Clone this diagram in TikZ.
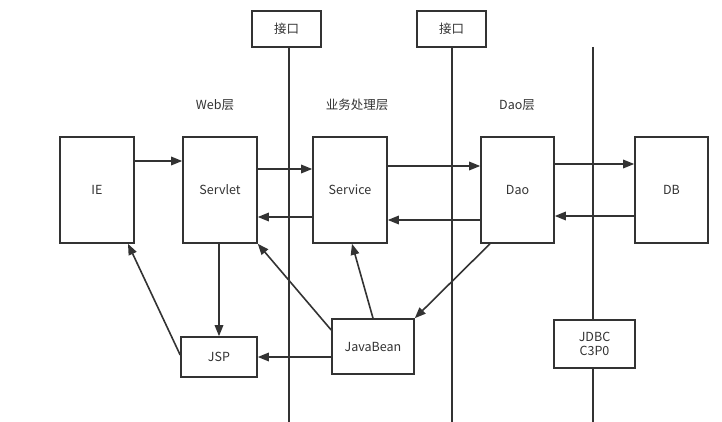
\documentclass[tikz,border=0pt]{standalone}
\usepackage{fontspec}
\setmainfont{Noto Sans CJK SC}
\usetikzlibrary{arrows.meta}
\definecolor{ink}{HTML}{333333}

\begin{document}
\begin{tikzpicture}[x=1pt,y=-1pt,line width=1.6pt,draw=ink,
  box/.style={draw,fill=white,inner sep=0pt,text=ink,font=\fontsize{12.5}{15}\selectfont,align=center},
  arr/.style={-{Triangle[length=11pt,width=8.5pt]}},
  lbl/.style={text=ink,font=\fontsize{12.5}{15}\selectfont}]
  \useasboundingbox (0,0) rectangle (722,422);
  % layer lines
  \node [box,minimum width=69pt,minimum height=36pt] (if1) at (286.5,29) {接口};
  \node [box,minimum width=69pt,minimum height=36pt] (if2) at (451.5,29) {接口};
  \coordinate (top3) at (593,47);
  \coordinate (bot1) at (289,422);
  \coordinate (bot2) at (452,422);
  \coordinate (bot3) at (593,422);
  \node [box,minimum width=81pt,minimum height=48pt] (jdbc) at (594.5,344) {JDBC\\[-1pt]C3P0};
  \draw (if1.south -| bot1) -- (bot1);
  \draw (if2.south -| bot2) -- (bot2);
  \draw (top3) -- (jdbc.north -| top3);
  \draw (jdbc.south -| bot3) -- (bot3);
  \node [lbl] (web) at (215,105) {Web层};
  \node [lbl] (biz) at (357,105) {业务处理层};
  \node [lbl] (daol) at (517,105) {Dao层};
  % boxes
  \node [box,minimum width=74pt,minimum height=106pt] (ie) at (97,190) {IE};
  \node [box,minimum width=74pt,minimum height=106pt] (servlet) at (220,190) {Servlet};
  \node [box,minimum width=74pt,minimum height=106pt] (service) at (350,190) {Service};
  \node [box,minimum width=73pt,minimum height=106pt] (dao) at (517.5,190) {Dao};
  \node [box,minimum width=73pt,minimum height=106pt] (db) at (671.5,190) {DB};
  \node [box,minimum width=76pt,minimum height=40pt] (jsp) at (219,357) {JSP};
  \node [box,minimum width=82pt,minimum height=55pt] (bean) at (373,346.5) {JavaBean};
  % arrows
  \draw [arr] (ie.east |- 0,161) -- (servlet.west |- 0,161);
  \draw [arr] (servlet.east |- 0,169) -- (service.west |- 0,169);
  \draw [arr] (service.west |- 0,217) -- (servlet.east |- 0,217);
  \draw [arr] (service.east |- 0,166) -- (dao.west |- 0,166);
  \draw [arr] (dao.west |- 0,220) -- (service.east |- 0,220);
  \draw [arr] (dao.east |- 0,164) -- (db.west |- 0,164);
  \draw [arr] (db.west |- 0,216) -- (dao.east |- 0,216);
  \draw [arr] (servlet.south -| 219,0) -- (jsp.north -| 219,0);
  \draw [arr] (jsp.west |- 0,355) -- (ie.south -| 128,0);
  \draw [arr] (bean.west |- 0,330) -- (servlet.south east);
  \draw [arr] (bean.north -| 373,0) -- (service.south -| 352,0);
  \draw [arr] (dao.south -| 490,0) -- (bean.north east);
  \draw [arr] (bean.west |- 0,357) -- (jsp.east |- 0,357);
\end{tikzpicture}
\end{document}
